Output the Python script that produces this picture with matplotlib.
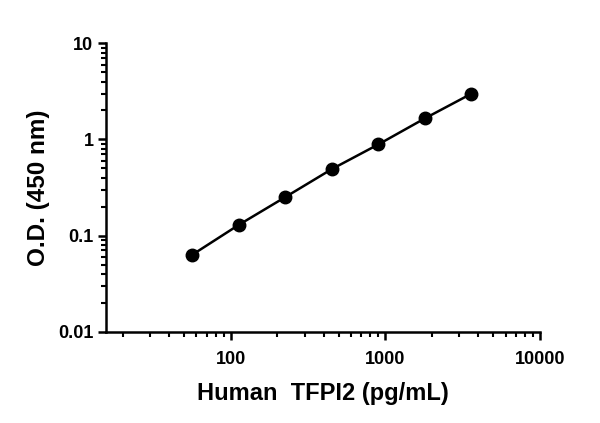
import matplotlib.pyplot as plt
from matplotlib.ticker import FixedLocator, LogLocator, NullFormatter

plt.rcParams['font.family'] = ['Liberation Sans', 'DejaVu Sans']
plt.rcParams['font.weight'] = 'bold'

# standard curve
conc = [56.25, 112.5, 225, 450, 900, 1800, 3600]
od = [0.063, 0.129, 0.251, 0.491, 0.887, 1.655, 2.99]

x_ticks = [100, 1000, 10000]
x_labels = ['100', '1000', '10000']
y_ticks = [0.01, 0.1, 1, 10]
y_labels = ['0.01', '0.1', '1', '10']

fig = plt.figure(figsize=(6, 4.23), dpi=100)
ax = fig.add_axes([106 / 600, 1 - 331.7 / 423, 434 / 600, 288.4 / 423])

ax.plot(conc, od, color='black', lw=1.8, marker='o', ms=9, clip_on=False)

ax.set_xscale('log')
ax.set_yscale('log')
ax.set_xlim(15.6, 10000)
ax.set_ylim(0.01, 10)

ax.xaxis.set_major_locator(FixedLocator(x_ticks))
ax.set_xticklabels(x_labels)
ax.yaxis.set_major_locator(FixedLocator(y_ticks))
ax.set_yticklabels(y_labels)
ax.xaxis.set_minor_locator(LogLocator(base=10, subs=range(2, 10)))
ax.yaxis.set_minor_locator(LogLocator(base=10, subs=range(2, 10)))
ax.xaxis.set_minor_formatter(NullFormatter())
ax.yaxis.set_minor_formatter(NullFormatter())

for s in ['top', 'right']:
    ax.spines[s].set_visible(False)
for s in ['left', 'bottom']:
    ax.spines[s].set_linewidth(1.8)

ax.tick_params(which='major', direction='out', length=6, width=1.8, labelsize=13)
ax.tick_params(axis='x', which='major', pad=8)
ax.tick_params(axis='y', which='major', pad=3)
ax.tick_params(which='minor', direction='out', length=3.5, width=1.5)

ax.set_xlabel('Human  TFPI2 (pg/mL)', fontsize=17, fontweight='bold', labelpad=10)
ax.set_ylabel('O.D. (450 nm)', fontsize=17.5, fontweight='bold', labelpad=6)

fig.savefig('out.png', dpi=100)
